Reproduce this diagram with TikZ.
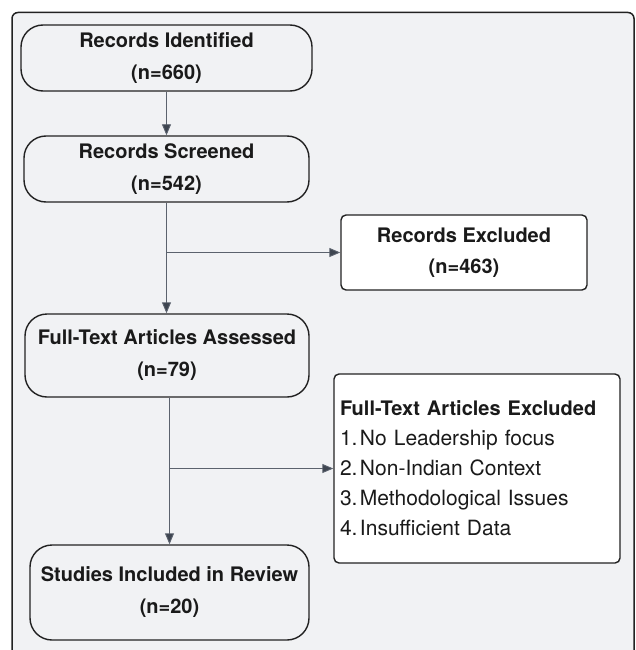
\documentclass[tikz,border=0pt]{standalone}
\usepackage{fontspec}
\setmainfont{TeX Gyre Heros}
\usetikzlibrary{arrows.meta}
\definecolor{bgc}{HTML}{F1F2F4}
\definecolor{linec}{HTML}{5B626D}
\definecolor{tipc}{HTML}{3E4550}
\definecolor{txt}{HTML}{1A1A1A}
\definecolor{edge}{HTML}{222222}
\begin{document}
\begin{tikzpicture}[x=1pt,y=-1pt,
  stad/.style={draw=edge, line width=1.4pt, fill=bgc, rounded corners=22pt,
    align=center, font=\fontsize{20}{32}\selectfont\bfseries, text=txt, inner sep=0pt},
  sqbox/.style={draw=edge, line width=1.4pt, fill=white, rounded corners=5pt,
    inner sep=0pt, text=txt},
  arr/.style={draw=linec, line width=0.9pt, -{Triangle[length=11pt,width=9pt,fill=tipc]}}]
\useasboundingbox (0,0) rectangle (635,650);
\clip (0,0) rectangle (635,650);
\fill[white] (0,0) rectangle (635,650);
\draw[fill=bgc, draw=edge, line width=1.5pt, rounded corners=6pt] (12,12.5) rectangle (634,680);

\node[stad, minimum width=291pt, minimum height=66pt] (ri) at (166.5,58) {Records Identified\\(n=660)};
\node[stad, minimum width=285pt, minimum height=66pt] (rs) at (166.5,169) {Records Screened\\(n=542)};
\node[sqbox, align=center, font=\fontsize{20}{31}\selectfont\bfseries, minimum width=246pt, minimum height=75pt] (rex) at (464,252.5) {Records Excluded\\(n=463)};
\node[stad, minimum width=284pt, minimum height=83pt] (fta) at (167,355.5) {Full-Text Articles Assessed\\(n=79)};
\node[sqbox, align=left, text width=274pt, font=\fontsize{21}{30}\selectfont, minimum width=286pt, minimum height=189pt] (fte) at (477,468.5)
  {{\fontsize{20}{30}\selectfont\bfseries Full-Text Articles Excluded}\\
   \makebox[20pt][l]{1.}No Leadership focus\\
   \makebox[20pt][l]{2.}Non-Indian Context\\
   \makebox[20pt][l]{3.}Methodological Issues\\
   \makebox[20pt][l]{4.}Insufficient Data};
\node[stad, minimum width=279pt, minimum height=95pt] (sir) at (169.5,592.5) {Studies Included in Review\\(n=20)};

\draw[arr] (ri) -- (rs);
\draw[arr] (rs.south) -- (rs.south |- fta.north);
\coordinate (b1) at (rs.south |- rex.west);
\draw[arr] (b1) -- (rex.west);
\draw[arr] (fta.south -| sir.north) -- (sir.north);
\coordinate (b2) at (sir.north |- fte.west);
\draw[arr] (b2) -- (fte.west);
\end{tikzpicture}
\end{document}
